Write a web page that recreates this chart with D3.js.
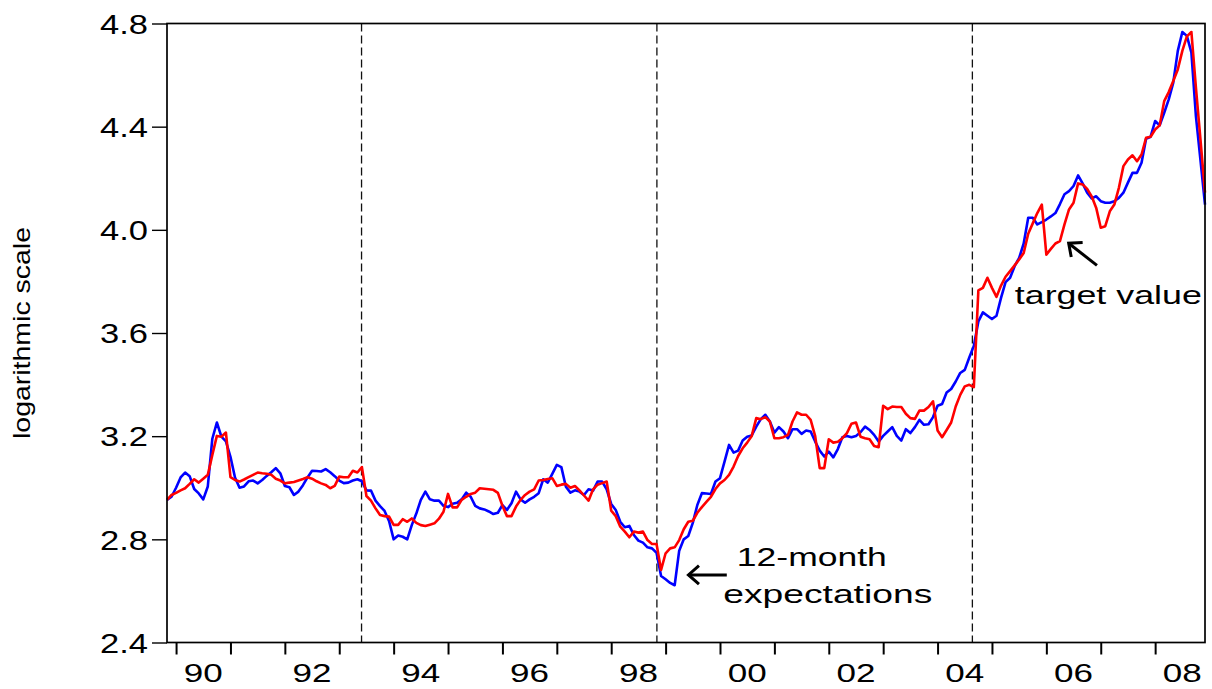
<!DOCTYPE html>
<html><head><meta charset="utf-8">
<script src="https://cdn.jsdelivr.net/npm/d3@7/dist/d3.min.js"></script>
<style>
body{margin:0;background:#fff}
svg{display:block}
text{font-family:"Liberation Sans",Arial,Helvetica,sans-serif;fill:#000}
</style>
</head><body>
<svg id="chart" width="1212" height="689"></svg>
<script>
// Monthly observations, Nov 1989 .. Dec 2008 (log scale values)
const expectations12m = [
  2.953, 2.965,
  3.000, 3.040, 3.059, 3.045, 2.995, 2.978, 2.955, 3.005, 3.190, 3.253, 3.198, 3.180,
  3.120, 3.040, 3.000, 3.005, 3.025, 3.028, 3.017, 3.030, 3.046, 3.060, 3.076, 3.056,
  3.007, 3.002, 2.972, 2.985, 3.010, 3.040, 3.066, 3.065, 3.063, 3.072, 3.060, 3.045,
  3.028, 3.018, 3.020, 3.028, 3.033, 3.025, 2.990, 2.989, 2.950, 2.929, 2.910, 2.870,
  2.800, 2.815, 2.810, 2.800, 2.855, 2.900, 2.953, 2.985, 2.955, 2.950, 2.950, 2.930,
  2.925, 2.938, 2.942, 2.955, 2.981, 2.965, 2.930, 2.920, 2.916, 2.908, 2.898, 2.903,
  2.933, 2.914, 2.940, 2.985, 2.955, 2.942, 2.955, 2.965, 2.979, 3.033, 3.020, 3.054,
  3.089, 3.080, 3.004, 2.981, 2.990, 2.985, 2.972, 2.994, 2.989, 3.024, 3.024, 2.994,
  2.937, 2.914, 2.868, 2.847, 2.852, 2.817, 2.795, 2.787, 2.769, 2.765, 2.748, 2.658,
  2.645, 2.631, 2.622, 2.756, 2.800, 2.813, 2.864, 2.933, 2.979, 2.978, 2.976, 3.024,
  3.037, 3.101, 3.166, 3.136, 3.144, 3.183, 3.198, 3.203, 3.237, 3.266, 3.283, 3.257,
  3.214, 3.235, 3.218, 3.192, 3.227, 3.227, 3.209, 3.222, 3.218, 3.179, 3.144, 3.121,
  3.140, 3.118, 3.150, 3.196, 3.201, 3.196, 3.201, 3.215, 3.237, 3.224, 3.205, 3.179,
  3.201, 3.218, 3.235, 3.201, 3.183, 3.227, 3.212, 3.235, 3.263, 3.244, 3.246, 3.274,
  3.318, 3.325, 3.369, 3.383, 3.412, 3.445, 3.457, 3.505, 3.550, 3.645, 3.680, 3.667,
  3.654, 3.667, 3.736, 3.797, 3.814, 3.859, 3.891, 3.947, 4.047, 4.047, 4.021, 4.030,
  4.040, 4.052, 4.065, 4.100, 4.138, 4.150, 4.170, 4.211, 4.180, 4.144, 4.122, 4.130,
  4.111, 4.105, 4.105, 4.111, 4.124, 4.144, 4.183, 4.221, 4.221, 4.260, 4.353, 4.361,
  4.422, 4.405, 4.454, 4.506, 4.571, 4.694, 4.767, 4.752, 4.687, 4.440, 4.270, 4.098
];
const targetValue = [
  2.953, 2.972,
  2.980, 2.990, 2.998, 3.015, 3.033, 3.020, 3.035, 3.050, 3.127, 3.201, 3.198, 3.214,
  3.041, 3.030, 3.024, 3.032, 3.041, 3.050, 3.059, 3.056, 3.054, 3.050, 3.035, 3.028,
  3.017, 3.020, 3.022, 3.028, 3.034, 3.041, 3.035, 3.025, 3.017, 3.011, 2.998, 3.007,
  3.043, 3.041, 3.041, 3.066, 3.059, 3.080, 2.968, 2.950, 2.920, 2.894, 2.890, 2.888,
  2.856, 2.856, 2.878, 2.868, 2.881, 2.864, 2.855, 2.852, 2.857, 2.862, 2.880, 2.907,
  2.976, 2.924, 2.924, 2.953, 2.965, 2.976, 2.981, 2.998, 2.996, 2.994, 2.992, 2.980,
  2.930, 2.890, 2.890, 2.927, 2.953, 2.972, 2.985, 2.994, 3.028, 3.030, 3.034, 3.037,
  3.007, 3.012, 3.015, 3.000, 3.007, 2.990, 2.970, 2.950, 2.994, 3.012, 3.018, 3.024,
  2.911, 2.890, 2.849, 2.830, 2.808, 2.830, 2.826, 2.830, 2.797, 2.782, 2.782, 2.681,
  2.746, 2.765, 2.769, 2.797, 2.839, 2.868, 2.872, 2.903, 2.925, 2.945, 2.965, 2.995,
  3.017, 3.030, 3.050, 3.082, 3.123, 3.153, 3.175, 3.201, 3.270, 3.266, 3.274, 3.257,
  3.192, 3.192, 3.196, 3.205, 3.257, 3.292, 3.283, 3.283, 3.263, 3.200, 3.076, 3.076,
  3.188, 3.175, 3.178, 3.192, 3.212, 3.248, 3.253, 3.198, 3.192, 3.188, 3.162, 3.157,
  3.318, 3.305, 3.315, 3.313, 3.313, 3.287, 3.270, 3.267, 3.299, 3.299, 3.313, 3.335,
  3.222, 3.196, 3.224, 3.253, 3.315, 3.360, 3.393, 3.399, 3.390, 3.765, 3.775, 3.814,
  3.775, 3.740, 3.784, 3.818, 3.840, 3.862, 3.885, 3.910, 3.985, 4.025, 4.065, 4.098,
  3.904, 3.926, 3.947, 3.956, 4.021, 4.079, 4.105, 4.180, 4.176, 4.159, 4.130, 4.085,
  4.008, 4.014, 4.072, 4.098, 4.163, 4.247, 4.273, 4.289, 4.266, 4.292, 4.357, 4.361,
  4.389, 4.405, 4.499, 4.534, 4.577, 4.622, 4.694, 4.750, 4.767, 4.550, 4.350, 4.144
];
const firstObs = 1989 + 10 / 12;           // Nov 1989
const breakDates = [1993.41, 1998.84, 2004.64];
const yTicks = [2.4, 2.8, 3.2, 3.6, 4.0, 4.4, 4.8];
const yearTicks = d3.range(1990, 2009);
const labelYears = [1990, 1992, 1994, 1996, 1998, 2000, 2002, 2004, 2006, 2008];
const labelTexts = ["90", "92", "94", "96", "98", "00", "02", "04", "06", "08"];
const yTitle = "logarithmic scale";

const dates = expectations12m.map((_, i) => firstObs + i / 12);

const svg = d3.select("#chart");
const L = 167, R = 1205, T = 23.5, B = 642.5;
const x = d3.scaleLinear().domain([dates[0], dates[dates.length - 1]]).range([L, R]);
const y = d3.scaleLinear().domain([2.4, 4.8]).range([B, T]);

// Break lines (dashed)
svg.append("g").selectAll("line").data(breakDates).join("line")
  .attr("x1", d => x(d)).attr("x2", d => x(d))
  .attr("y1", y(4.8)).attr("y2", y(2.4))
  .attr("stroke", "#111").attr("stroke-width", 1.3)
  .attr("stroke-dasharray", "8,4");

// Series
const line = d3.line().x((d, i) => x(dates[i])).y(d => y(d));
svg.append("path").datum(expectations12m)
  .attr("d", line).attr("fill", "none").attr("stroke", "#0000FF")
  .attr("stroke-width", 2.6).attr("stroke-linejoin", "round");
svg.append("path").datum(targetValue)
  .attr("d", line).attr("fill", "none").attr("stroke", "#FF0000")
  .attr("stroke-width", 2.6).attr("stroke-linejoin", "round");

// Frame
svg.append("rect")
  .attr("x", L).attr("y", T).attr("width", R - L).attr("height", B - T)
  .attr("fill", "none").attr("stroke", "#000").attr("stroke-width", 1.7);

// Y axis
const yAxis = svg.append("g").attr("transform", `translate(${L},0)`)
  .call(d3.axisLeft(y).tickValues(yTicks).tickSize(15).tickPadding(5)
    .tickFormat(d3.format(".1f")));
yAxis.select(".domain").remove();
yAxis.selectAll("line").attr("stroke", "#000").attr("stroke-width", 1.4);
yAxis.selectAll("text")
  .attr("font-size", 27).attr("x", -19).attr("dy", "0.36em")
  .attr("textLength", 48).attr("lengthAdjust", "spacingAndGlyphs")
  .style("font-family", '"Liberation Sans",Arial,sans-serif');

// X axis ticks (year starts)
const xAxis = svg.append("g").attr("transform", `translate(0,${B})`)
  .call(d3.axisBottom(x).tickValues(yearTicks).tickSize(12).tickFormat(""));
xAxis.select(".domain").remove();
xAxis.selectAll("line").attr("stroke", "#000").attr("stroke-width", 2);

// X labels centred in each labelled year
svg.append("g").selectAll("text").data(labelYears).join("text")
  .attr("x", d => x(d + 0.5)).attr("y", B + 39)
  .attr("text-anchor", "middle").attr("font-size", 25.5)
  .attr("textLength", 39).attr("lengthAdjust", "spacingAndGlyphs")
  .text((d, i) => labelTexts[i]);

// Y title
svg.append("text")
  .attr("transform", `translate(30,${(T + B) / 2}) rotate(-90)`)
  .attr("text-anchor", "middle").attr("font-size", 24)
  .attr("textLength", 212).attr("lengthAdjust", "spacingAndGlyphs")
  .text(yTitle);

// Annotations
function arrow(t0, v0, t1, v1) {
  const x0 = x(t0), y0 = y(v0), x1 = x(t1), y1 = y(v1);
  const ang = Math.atan2(y0 - y1, x0 - x1);
  const len = 14, spread = 0.72;
  const g = svg.append("g").attr("stroke", "#000").attr("stroke-width", 3)
    .attr("fill", "none").attr("stroke-linecap", "butt");
  g.append("line").attr("x1", x0).attr("y1", y0).attr("x2", x1).attr("y2", y1);
  g.append("path").attr("d",
    `M${x1 + len * Math.cos(ang + spread)},${y1 + len * Math.sin(ang + spread)}` +
    `L${x1},${y1}` +
    `L${x1 + len * Math.cos(ang - spread)},${y1 + len * Math.sin(ang - spread)}`);
}

svg.append("text").attr("x", x(2000.31)).attr("y", y(2.695))
  .attr("font-size", 26).attr("textLength", 150).attr("lengthAdjust", "spacingAndGlyphs")
  .text("12-month");
svg.append("text").attr("x", x(2000.06)).attr("y", y(2.555))
  .attr("font-size", 26).attr("textLength", 209).attr("lengthAdjust", "spacingAndGlyphs")
  .text("expectations");
arrow(2000.125, 2.662, 1999.42, 2.662);

svg.append("text").attr("x", x(2005.42)).attr("y", y(3.713))
  .attr("font-size", 26).attr("textLength", 187).attr("lengthAdjust", "spacingAndGlyphs")
  .text("target value");
arrow(2006.93, 3.862, 2006.41, 3.948);
</script>
</body></html>
